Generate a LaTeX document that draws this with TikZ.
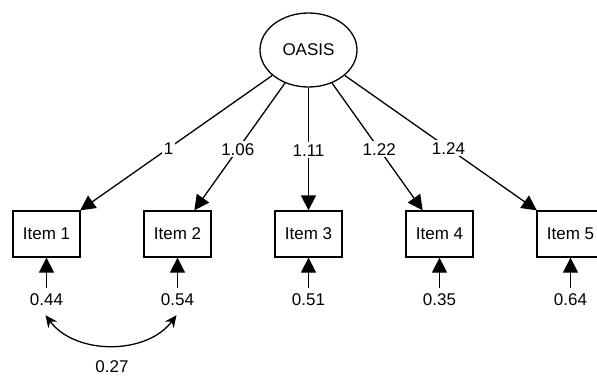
\documentclass[tikz,border=0pt]{standalone}
\usepackage{fontspec}
\setmainfont{Liberation Sans}
\usetikzlibrary{arrows.meta,shapes.geometric}
\tikzset{
  lat/.style={draw, line width=1.3pt, ellipse, minimum width=97pt, minimum height=74pt, inner sep=0pt, font=\fontsize{17}{19}\selectfont},
  itembox/.style={draw, line width=1.3pt, rectangle, minimum width=67pt, minimum height=46pt, inner sep=0pt, font=\fontsize{17}{19}\selectfont},
  lbl/.style={inner sep=1pt, font=\fontsize{17}{19}\selectfont},
  loadlbl/.style={fill=white, inner sep=2pt, font=\fontsize{17}{19}\selectfont},
  conn/.style={line width=1.3pt, -{Triangle[length=15pt,width=15pt]}},
  cov/.style={line width=1.3pt, {Stealth[length=12pt,width=11pt]}-{Stealth[length=12pt,width=11pt]}}
}
\begin{document}
\begin{tikzpicture}[x=1pt,y=-1pt]
\useasboundingbox (0,0) rectangle (597,375);
\clip (0,0) rectangle (597,375);
\node[lat] (oasis) at (308.5,50) {OASIS};
\foreach \i/\x in {1/46.5,2/177.5,3/308.5,4/439.5,5/570.5}{
  \node[itembox] (item\i) at (\x,234) {Item \i};
}
\node[lbl] (e1) at (46.5,300) {0.44};
\node[lbl] (e2) at (177.5,300) {0.54};
\node[lbl] (e3) at (308.5,300) {0.51};
\node[lbl] (e4) at (439.5,300) {0.35};
\node[lbl] (e5) at (570.5,300) {0.64};
\draw[conn] (oasis) -- node[loadlbl, pos=0.54] {1} (item1);
\draw[conn] (oasis) -- node[loadlbl, pos=0.52] {1.06} (item2);
\draw[conn] (oasis) -- node[loadlbl, pos=0.51] {1.11} (item3);
\draw[conn] (oasis) -- node[loadlbl, pos=0.52] {1.22} (item4);
\draw[conn] (oasis) -- node[loadlbl, pos=0.54] {1.24} (item5);
\foreach \i in {1,...,5}{
  \draw[conn] ([yshift=5pt]e\i.north) -- (item\i.south);
}
\draw[cov] ([xshift=-1pt,yshift=-8pt]e1.south) .. controls +(30,40) and +(-30,40) .. ([xshift=-1pt,yshift=-8pt]e2.south);
\node[lbl] (cv) at (112,367) {0.27};
\end{tikzpicture}
\end{document}
